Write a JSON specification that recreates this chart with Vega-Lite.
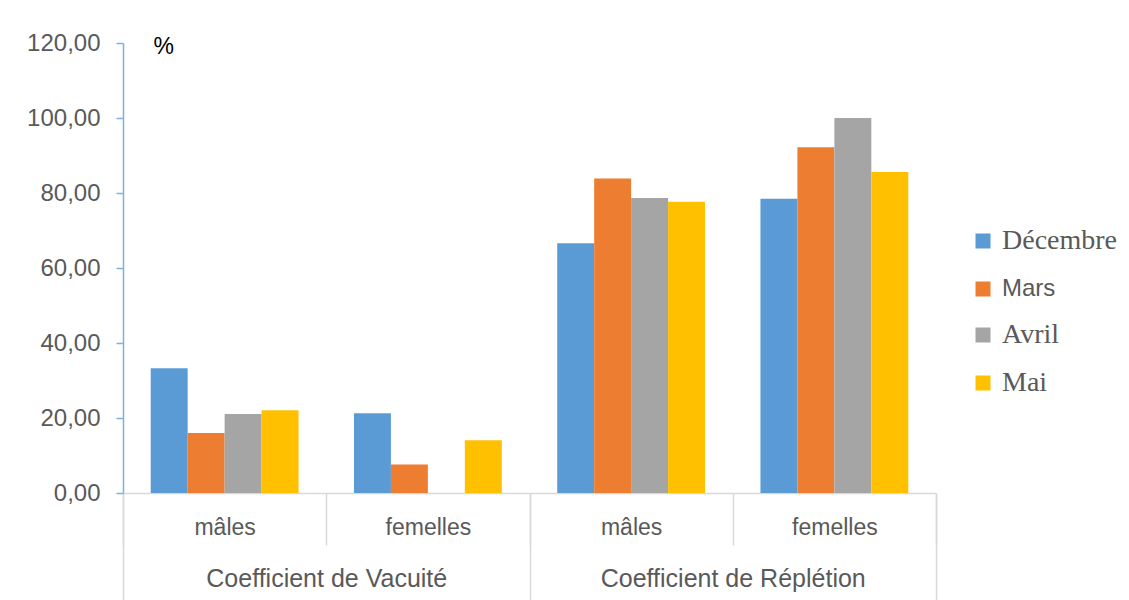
{
  "$schema": "https://vega.github.io/schema/vega-lite/v6.json",
  "autosize": "none",
  "padding": {"left": 123, "top": 43, "right": 193, "bottom": 107},
  "width": 813,
  "height": 450,
  "background": "white",
  "config": {"view": {"stroke": null}},
  "data": {"values": [
    {"coef": "Coefficient de Vacuité", "cat": "CV|mâles", "month": "Décembre", "value": 33.3},
    {"coef": "Coefficient de Vacuité", "cat": "CV|mâles", "month": "Mars", "value": 16.0},
    {"coef": "Coefficient de Vacuité", "cat": "CV|mâles", "month": "Avril", "value": 21.1},
    {"coef": "Coefficient de Vacuité", "cat": "CV|mâles", "month": "Mai", "value": 22.1},
    {"coef": "Coefficient de Vacuité", "cat": "CV|femelles", "month": "Décembre", "value": 21.3},
    {"coef": "Coefficient de Vacuité", "cat": "CV|femelles", "month": "Mars", "value": 7.6},
    {"coef": "Coefficient de Vacuité", "cat": "CV|femelles", "month": "Avril", "value": 0},
    {"coef": "Coefficient de Vacuité", "cat": "CV|femelles", "month": "Mai", "value": 14.1},
    {"coef": "Coefficient de Réplétion", "cat": "CR|mâles", "month": "Décembre", "value": 66.6},
    {"coef": "Coefficient de Réplétion", "cat": "CR|mâles", "month": "Mars", "value": 83.9},
    {"coef": "Coefficient de Réplétion", "cat": "CR|mâles", "month": "Avril", "value": 78.7},
    {"coef": "Coefficient de Réplétion", "cat": "CR|mâles", "month": "Mai", "value": 77.7},
    {"coef": "Coefficient de Réplétion", "cat": "CR|femelles", "month": "Décembre", "value": 78.5},
    {"coef": "Coefficient de Réplétion", "cat": "CR|femelles", "month": "Mars", "value": 92.2},
    {"coef": "Coefficient de Réplétion", "cat": "CR|femelles", "month": "Avril", "value": 100.0},
    {"coef": "Coefficient de Réplétion", "cat": "CR|femelles", "month": "Mai", "value": 85.6}
  ]},
  "layer": [
    {
      "mark": {"type": "bar"},
      "encoding": {
        "x": {
          "field": "cat", "type": "nominal",
          "sort": ["CV|mâles", "CV|femelles", "CR|mâles", "CR|femelles"],
          "scale": {"type": "band", "paddingInner": 0, "paddingOuter": 0},
          "axis": {
            "title": null,
            "labelExpr": "split(datum.label, '|')[1]",
            "labelAngle": 0,
            "labelFont": "Liberation Sans",
            "labelFontSize": 23,
            "labelColor": "#595959",
            "labelPadding": -29,
            "domainColor": "#d9d9d9",
            "domainWidth": 1.5,
            "tickColor": "#d9d9d9",
            "tickWidth": 1.5,
            "tickBand": "extent",
            "tickSize": 52
          }
        },
        "xOffset": {
          "field": "month", "type": "nominal",
          "sort": ["Décembre", "Mars", "Avril", "Mai"],
          "scale": {"paddingInner": 0, "paddingOuter": 0.75}
        },
        "y": {
          "field": "value", "type": "quantitative",
          "scale": {"domain": [0, 120], "nice": false},
          "axis": {
            "values": [0, 20, 40, 60, 80, 100, 120],
            "labelExpr": "replace(format(datum.value, '.2f'), '.', ',')",
            "grid": false,
            "labelFont": "Liberation Sans",
            "labelFontSize": 24,
            "labelColor": "#595959",
            "labelPadding": 16,
            "tickSize": 7,
            "tickColor": "#7FB0E0",
            "domainColor": "#7FB0E0",
            "domainWidth": 1.5,
            "tickWidth": 1.5,
            "title": "%",
            "titleAngle": 0,
            "titleX": 30,
            "titleY": 3,
            "titleAlign": "left",
            "titleBaseline": "middle",
            "titleFont": "Liberation Sans",
            "titleFontSize": 23,
            "titleFontWeight": "normal",
            "titleColor": "#000000"
          }
        },
        "color": {
          "field": "month", "type": "nominal",
          "sort": ["Décembre", "Mars", "Avril", "Mai"],
          "scale": {"domain": ["Décembre", "Mars", "Avril", "Mai"], "range": ["#5B9BD5", "#ED7D31", "#A5A5A5", "#FFC000"]},
          "legend": {
            "title": null,
            "orient": "none",
            "legendX": 846,
            "legendY": 184,
            "padding": 0,
            "symbolType": "square",
            "symbolSize": 225,
            "symbolStrokeWidth": 0,
            "labelFont": "Liberation Serif",
            "labelFontSize": 28,
            "labelColor": "#595959",
            "labelOffset": 5,
            "rowPadding": 20,
            "labelExpr": "datum.label == 'Mars' ? ' Mars' : datum.label",
            "encode": {
              "labels": {
                "update": {
                  "font": {"signal": "datum.label == 'Mars' ? 'Liberation Sans' : 'Liberation Serif'"},
                  "fontSize": {"signal": "datum.label == 'Mars' ? 24 : 28"}
                }
              }
            }
          }
        }
      }
    },
    {
      "mark": {"type": "point", "opacity": 0},
      "encoding": {
        "x": {
          "field": "coef", "type": "nominal",
          "sort": ["Coefficient de Vacuité", "Coefficient de Réplétion"],
          "scale": {"type": "band", "paddingInner": 0, "paddingOuter": 0},
          "axis": {
            "orient": "bottom",
            "title": null,
            "labelAngle": 0,
            "labelLimit": 0,
            "domain": false,
            "labelFont": "Liberation Sans",
            "labelFontSize": 25,
            "labelColor": "#595959",
            "labelPadding": -34,
            "tickColor": "#d9d9d9",
            "tickWidth": 1.5,
            "tickBand": "extent",
            "tickSize": 107
          }
        },
        "y": {"datum": 0}
      }
    }
  ],
  "resolve": {"scale": {"x": "independent"}, "axis": {"x": "independent"}}
}
